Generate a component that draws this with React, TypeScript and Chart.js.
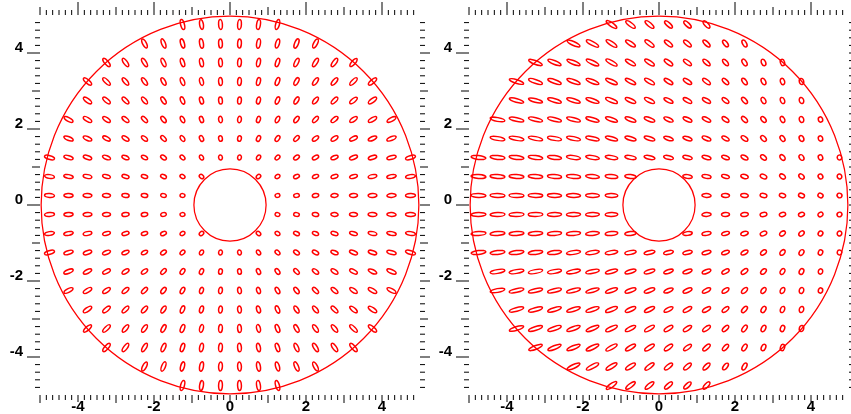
import React, { useEffect, useRef } from "react";
import { Chart, registerables } from "chart.js";

Chart.register(...registerables);

const N = null;

// grid of ellipse centres (data units)
const xs = [-4.75, -4.25, -3.75, -3.25, -2.75, -2.25, -1.75, -1.25, -0.75, -0.25, 0.25, 0.75, 1.25, 1.75, 2.25, 2.75, 3.25, 3.75, 4.25, 4.75];
const ys = [4.75, 4.25, 3.75, 3.25, 2.75, 2.25, 1.75, 1.25, 0.75, 0.25, -0.25, -0.75, -1.25, -1.75, -2.25, -2.75, -3.25, -3.75, -4.25, -4.75];

const outerRadius = 4.97;
const innerRadius = 0.95;
const axisLabelTicks = [-4, -2, 0, 2, 4];

// left panel: major-axis angle (deg, counter-clockwise from +x), rows follow ys, columns follow xs
const leftAngle: (number | null)[][] = [
  [N, N, N, N, N, N, N, -75, -81, -87, 87, 81, 75, N, N, N, N, N, N, N],
  [N, N, N, N, N, -62, -68, -74, -80, -87, 87, 80, 74, 68, 62, N, N, N, N, N],
  [N, N, N, -49, -54, -59, -65, -72, -79, -86, 86, 79, 72, 65, 59, 54, 49, N, N, N],
  [N, N, -41, -45, -50, -55, -62, -69, -77, -86, 86, 77, 69, 62, 55, 50, 45, 41, N, N],
  [N, N, -36, -40, -45, -51, -58, -66, -75, -85, 85, 75, 66, 58, 51, 45, 40, 36, N, N],
  [N, -28, -31, -35, -39, -45, -52, -61, -72, -84, 84, 72, 61, 52, 45, 39, 35, 31, 28, N],
  [N, -22, -25, -28, -33, -38, -45, -55, -67, -82, 82, 67, 55, 45, 38, 33, 28, 25, 22, N],
  [-15, -16, -18, -21, -24, -29, -36, -45, -59, -79, 79, 59, 45, 36, 29, 24, 21, 18, 16, 15],
  [-9, -10, -11, -13, -15, -18, -23, -31, -45, N, N, 45, 31, 23, 18, 15, 13, 11, 10, 9],
  [-3, -3, -4, -4, -5, -6, -8, -11, N, N, N, N, 11, 8, 6, 5, 4, 4, 3, 3],
  [3, 3, 4, 4, 5, 6, 8, 11, N, N, N, N, -11, -8, -6, -5, -4, -4, -3, -3],
  [9, 10, 11, 13, 15, 18, 23, 31, 45, N, N, -45, -31, -23, -18, -15, -13, -11, -10, -9],
  [15, 16, 18, 21, 24, 29, 36, 45, 59, 79, -79, -59, -45, -36, -29, -24, -21, -18, -16, -15],
  [N, 22, 25, 28, 33, 38, 45, 55, 67, 82, -82, -67, -55, -45, -38, -33, -28, -25, -22, N],
  [N, 28, 31, 35, 39, 45, 52, 61, 72, 84, -84, -72, -61, -52, -45, -39, -35, -31, -28, N],
  [N, N, 36, 40, 45, 51, 58, 66, 75, 85, -85, -75, -66, -58, -51, -45, -40, -36, N, N],
  [N, N, 41, 45, 50, 55, 62, 69, 77, 86, -86, -77, -69, -62, -55, -50, -45, -41, N, N],
  [N, N, N, 49, 54, 59, 65, 72, 79, 86, -86, -79, -72, -65, -59, -54, -49, N, N, N],
  [N, N, N, N, N, 62, 68, 74, 80, 87, -87, -80, -74, -68, -62, N, N, N, N, N],
  [N, N, N, N, N, N, N, 75, 81, 87, -87, -81, -75, N, N, N, N, N, N, N],
];

// left panel: full major axis (data units)
const leftMajor: (number | null)[][] = [
  [N, N, N, N, N, N, N, 0.27, 0.26, 0.26, 0.26, 0.26, 0.27, N, N, N, N, N, N, N],
  [N, N, N, N, N, 0.26, 0.26, 0.25, 0.25, 0.24, 0.24, 0.25, 0.25, 0.26, 0.26, N, N, N, N, N],
  [N, N, N, 0.27, 0.26, 0.25, 0.24, 0.23, 0.23, 0.23, 0.23, 0.23, 0.23, 0.24, 0.25, 0.26, 0.27, N, N, N],
  [N, N, 0.27, 0.26, 0.24, 0.23, 0.22, 0.22, 0.21, 0.21, 0.21, 0.21, 0.22, 0.22, 0.23, 0.24, 0.26, 0.27, N, N],
  [N, N, 0.26, 0.24, 0.23, 0.22, 0.21, 0.2, 0.19, 0.19, 0.19, 0.19, 0.2, 0.21, 0.22, 0.23, 0.24, 0.26, N, N],
  [N, 0.26, 0.25, 0.23, 0.22, 0.2, 0.19, 0.18, 0.17, 0.17, 0.17, 0.17, 0.18, 0.19, 0.2, 0.22, 0.23, 0.25, 0.26, N],
  [N, 0.26, 0.24, 0.22, 0.21, 0.19, 0.18, 0.17, 0.16, 0.15, 0.15, 0.16, 0.17, 0.18, 0.19, 0.21, 0.22, 0.24, 0.26, N],
  [0.27, 0.25, 0.23, 0.22, 0.2, 0.18, 0.17, 0.15, 0.14, 0.13, 0.13, 0.14, 0.15, 0.17, 0.18, 0.2, 0.22, 0.23, 0.25, 0.27],
  [0.26, 0.25, 0.23, 0.21, 0.19, 0.17, 0.16, 0.14, 0.13, N, N, 0.13, 0.14, 0.16, 0.17, 0.19, 0.21, 0.23, 0.25, 0.26],
  [0.26, 0.24, 0.23, 0.21, 0.19, 0.17, 0.15, 0.13, N, N, N, N, 0.13, 0.15, 0.17, 0.19, 0.21, 0.23, 0.24, 0.26],
  [0.26, 0.24, 0.23, 0.21, 0.19, 0.17, 0.15, 0.13, N, N, N, N, 0.13, 0.15, 0.17, 0.19, 0.21, 0.23, 0.24, 0.26],
  [0.26, 0.25, 0.23, 0.21, 0.19, 0.17, 0.16, 0.14, 0.13, N, N, 0.13, 0.14, 0.16, 0.17, 0.19, 0.21, 0.23, 0.25, 0.26],
  [0.27, 0.25, 0.23, 0.22, 0.2, 0.18, 0.17, 0.15, 0.14, 0.13, 0.13, 0.14, 0.15, 0.17, 0.18, 0.2, 0.22, 0.23, 0.25, 0.27],
  [N, 0.26, 0.24, 0.22, 0.21, 0.19, 0.18, 0.17, 0.16, 0.15, 0.15, 0.16, 0.17, 0.18, 0.19, 0.21, 0.22, 0.24, 0.26, N],
  [N, 0.26, 0.25, 0.23, 0.22, 0.2, 0.19, 0.18, 0.17, 0.17, 0.17, 0.17, 0.18, 0.19, 0.2, 0.22, 0.23, 0.25, 0.26, N],
  [N, N, 0.26, 0.24, 0.23, 0.22, 0.21, 0.2, 0.19, 0.19, 0.19, 0.19, 0.2, 0.21, 0.22, 0.23, 0.24, 0.26, N, N],
  [N, N, 0.27, 0.26, 0.24, 0.23, 0.22, 0.22, 0.21, 0.21, 0.21, 0.21, 0.22, 0.22, 0.23, 0.24, 0.26, 0.27, N, N],
  [N, N, N, 0.27, 0.26, 0.25, 0.24, 0.23, 0.23, 0.23, 0.23, 0.23, 0.23, 0.24, 0.25, 0.26, 0.27, N, N, N],
  [N, N, N, N, N, 0.26, 0.26, 0.25, 0.25, 0.24, 0.24, 0.25, 0.25, 0.26, 0.26, N, N, N, N, N],
  [N, N, N, N, N, N, N, 0.27, 0.26, 0.26, 0.26, 0.26, 0.27, N, N, N, N, N, N, N],
];
const leftMinor = 0.1;

// right panel: major-axis angle (deg)
const rightAngle: (number | null)[][] = [
  [N, N, N, N, N, N, N, -35, -37, -40, -42, -44, -48, N, N, N, N, N, N, N],
  [N, N, N, N, N, -25, -28, -32, -34, -37, -39, -40, -44, -52, -61, N, N, N, N, N],
  [N, N, N, -21, -22, -22, -25, -29, -31, -33, -35, -37, -41, -48, -58, -66, -73, N, N, N],
  [N, N, -17, -18, -19, -20, -22, -25, -27, -30, -32, -33, -37, -44, -54, -63, -70, -77, N, N],
  [N, N, -15, -15, -16, -17, -19, -22, -24, -26, -28, -29, -32, -40, -49, -59, -67, -74, N, N],
  [N, -11, -12, -13, -13, -14, -16, -18, -20, -21, -23, -24, -27, -34, -43, -53, -62, -71, -77, N],
  [N, -9, -9, -10, -10, -11, -12, -14, -16, -17, -18, -19, -22, -28, -36, -46, -56, -66, -74, N],
  [-6, -6, -7, -7, -7, -8, -9, -10, -11, -12, -13, -14, -16, -21, -28, -37, -47, -58, -68, -75],
  [-3, -4, -4, -4, -5, -5, -5, -6, -7, N, N, -9, -10, -13, -17, -24, -32, -44, -56, -66],
  [-1, -1, -1, -1, -2, -2, -2, -2, N, N, N, N, -3, -4, -6, -9, -12, -18, -27, -37],
  [1, 1, 1, 1, 2, 2, 2, 2, N, N, N, N, 3, 4, 6, 9, 12, 18, 27, 37],
  [3, 4, 4, 4, 5, 5, 5, 6, 7, N, N, 9, 10, 13, 17, 24, 32, 44, 56, 66],
  [6, 6, 7, 7, 7, 8, 9, 10, 11, 12, 13, 14, 16, 21, 28, 37, 47, 58, 68, 75],
  [N, 9, 9, 10, 10, 11, 12, 14, 16, 17, 18, 19, 22, 28, 36, 46, 56, 66, 74, N],
  [N, 11, 12, 13, 13, 14, 16, 18, 20, 21, 23, 24, 27, 34, 43, 53, 62, 71, 77, N],
  [N, N, 15, 15, 16, 17, 19, 22, 24, 26, 28, 29, 32, 40, 49, 59, 67, 74, N, N],
  [N, N, 17, 18, 19, 20, 22, 25, 27, 30, 32, 33, 37, 44, 54, 63, 70, 77, N, N],
  [N, N, N, 21, 22, 22, 25, 29, 31, 33, 35, 37, 41, 48, 58, 66, 73, N, N, N],
  [N, N, N, N, N, 25, 28, 32, 34, 37, 39, 40, 44, 52, 61, N, N, N, N, N],
  [N, N, N, N, N, N, N, 35, 37, 40, 42, 44, 48, N, N, N, N, N, N, N],
];
// right panel: full axes by column (data units)
const rightMajor = [0.39, 0.39, 0.39, 0.38, 0.37, 0.37, 0.36, 0.33, 0.3, 0.29, 0.26, 0.25, 0.24, 0.21, 0.2, 0.18, 0.17, 0.16, 0.14, 0.13];
const rightMinor = [0.1, 0.1, 0.1, 0.1, 0.1, 0.1, 0.1, 0.1, 0.1, 0.1, 0.1, 0.1, 0.1, 0.1, 0.105, 0.11, 0.11, 0.115, 0.115, 0.12];

type Ell = { x: number; y: number; angle: number; major: number; minor: number };

function buildPoints(
  angles: (number | null)[][],
  majorAt: (r: number, c: number) => number,
  minorAt: (r: number, c: number) => number
): Ell[] {
  const out: Ell[] = [];
  ys.forEach((y, r) => {
    xs.forEach((x, c) => {
      const a = angles[r][c];
      if (a === null || a === undefined) return;
      out.push({ x, y, angle: a, major: majorAt(r, c), minor: minorAt(r, c) });
    });
  });
  return out;
}

const RED = "rgb(255,0,0)";
const FONT_FAMILY = "'Liberation Sans', Arial, Helvetica, sans-serif";

const shapesPlugin = {
  id: "annulusEllipses",
  afterDatasetsDraw(chart: any) {
    const { ctx, scales } = chart;
    const xS = scales.x;
    const yS = scales.y;
    const ppuX = Math.abs(xS.getPixelForValue(1) - xS.getPixelForValue(0));
    const ppuY = Math.abs(yS.getPixelForValue(1) - yS.getPixelForValue(0));
    const cx = xS.getPixelForValue(0);
    const cy = yS.getPixelForValue(0);
    ctx.save();
    ctx.strokeStyle = RED;
    ctx.lineWidth = 1.25;
    for (const r of [outerRadius, innerRadius]) {
      ctx.beginPath();
      ctx.ellipse(cx, cy, r * ppuX, r * ppuY, 0, 0, Math.PI * 2);
      ctx.stroke();
    }
    const meta = chart.getDatasetMeta(0);
    const data = chart.data.datasets[0].data as Ell[];
    ctx.lineWidth = 1.5;
    meta.data.forEach((el: any, i: number) => {
      const d = data[i];
      const rx = Math.max(0.8, (d.major * ppuX) / 2);
      const ry = Math.max(0.8, (d.minor * ppuX) / 2);
      ctx.beginPath();
      ctx.ellipse(el.x, el.y, rx, ry, (-d.angle * Math.PI) / 180, 0, Math.PI * 2);
      ctx.stroke();
    });
    ctx.restore();
  },
};

const tickMarksPlugin = {
  id: "tickMarks",
  afterDraw(chart: any) {
    const { ctx, chartArea: a, scales } = chart;
    const xS = scales.x;
    const yS = scales.y;
    ctx.save();
    ctx.strokeStyle = "#000";
    ctx.lineWidth = 1;
    ctx.beginPath();
    // x ticks every 1/6 unit
    for (let k = -30; k < 30; k++) {
      const px = xS.getPixelForValue(k / 6);
      const isInt = k % 6 === 0;
      const isEven = k % 12 === 0;
      const top = isEven ? 13 : isInt ? 8 : 5;
      const bot = isEven ? 7 : isInt ? 8 : 5;
      ctx.moveTo(px, a.top);
      ctx.lineTo(px, a.top - top);
      ctx.moveTo(px, a.bottom);
      ctx.lineTo(px, a.bottom + bot);
    }
    // y ticks every 0.2 unit
    for (let k = -24; k <= 24; k++) {
      const py = yS.getPixelForValue(k / 5);
      const isInt = k % 5 === 0;
      const isEven = k % 10 === 0;
      const len = isEven ? 13 : isInt ? 8 : 5;
      ctx.moveTo(a.left, py);
      ctx.lineTo(a.left - len, py);
      ctx.moveTo(a.right, py);
      ctx.lineTo(a.right + len, py);
    }
    ctx.stroke();
    ctx.restore();
  },
};

function Panel(props: { left: number; width: number; padRight: number; points: Ell[] }) {
  const ref = useRef<HTMLCanvasElement>(null);
  useEffect(() => {
    if (!ref.current) return;
    const tickFont = { family: FONT_FAMILY, size: 15, weight: "bold" as const };
    const chart = new Chart(ref.current, {
      type: "scatter",
      data: {
        datasets: [
          {
            data: props.points as any,
            pointRadius: 0,
            pointHoverRadius: 0,
            showLine: false,
          },
        ],
      },
      options: {
        responsive: false,
        animation: false,
        events: [],
        layout: { padding: { top: 15, right: props.padRight, left: 0, bottom: 0 } },
        plugins: { legend: { display: false }, tooltip: { enabled: false } },
        scales: {
          x: {
            type: "linear",
            position: "bottom",
            min: -5,
            max: 5,
            grid: { display: false, drawTicks: false },
            border: { display: false },
            afterBuildTicks: (s: any) => {
              s.ticks = axisLabelTicks.map((v) => ({ value: v }));
            },
            afterFit: (s: any) => {
              s.height = 19;
              s.paddingLeft = 0;
              s.paddingRight = 0;
            },
            ticks: {
              autoSkip: false,
              maxRotation: 0,
              padding: 3,
              color: "#000",
              font: tickFont,
              callback: (v: any) => String(v),
            },
          },
          y: {
            type: "linear",
            position: "left",
            min: -5,
            max: 5,
            grid: { display: false, drawTicks: false },
            border: { display: false },
            afterBuildTicks: (s: any) => {
              s.ticks = axisLabelTicks.map((v) => ({ value: v }));
            },
            afterFit: (s: any) => {
              s.width = 40;
              s.paddingTop = 0;
              s.paddingBottom = 0;
            },
            ticks: {
              autoSkip: false,
              padding: 17,
              labelOffset: -5,
              color: "#000",
              font: tickFont,
              callback: (v: any) => String(v),
            },
          },
        },
      } as any,
      plugins: [shapesPlugin, tickMarksPlugin],
    });
    return () => chart.destroy();
  }, []);
  return (
    <canvas
      ref={ref}
      width={props.width}
      height={414}
      style={{ position: "absolute", left: props.left, top: 0, display: "block" }}
    />
  );
}

const leftPoints = buildPoints(leftAngle, (r, c) => leftMajor[r][c] as number, () => leftMinor);
const rightPoints = buildPoints(rightAngle, (_r, c) => rightMajor[c], (_r, c) => rightMinor[c]);

export default function App() {
  return (
    <div style={{ position: "fixed", left: 0, top: 0, width: 851, height: 414, background: "#fff", overflow: "hidden" }}>
      <Panel left={0} width={430} padRight={10} points={leftPoints} />
      <Panel left={429} width={422} padRight={2} points={rightPoints} />
    </div>
  );
}
